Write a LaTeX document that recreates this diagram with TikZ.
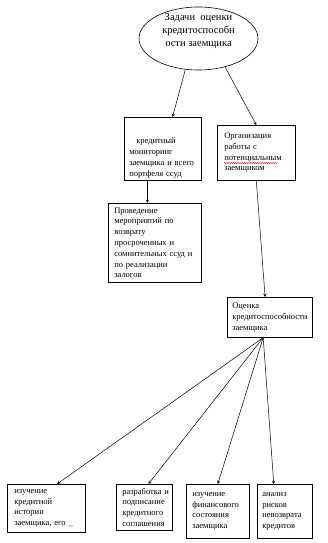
\documentclass[tikz,border=0pt]{standalone}
\usepackage{fontspec}
\setmainfont{Liberation Serif}
\usetikzlibrary{arrows,positioning,shapes.geometric,calc,decorations.pathmorphing}
\tikzset{
  block/.style={draw, rectangle, anchor=north west, align=left, line width=0.6pt,
    inner ysep=2pt, font=\fontsize{8.5}{10.8}\selectfont},
  goal/.style={draw, ellipse, line width=0.6pt, minimum width=119pt, minimum height=63pt},
  link/.style={-stealth, line width=0.5pt},
}

\begin{document}
\begin{tikzpicture}[x=1pt,y=-1pt]
    \useasboundingbox (0,0) rectangle (328,543);

    % Top ellipse
    \node[goal] (goal) at (198.5,38.5) {};
    \node[align=center, font=\fontsize{10.5}{13}\selectfont] (goaltext) at (198.5,31.5)
      {Задачи\ \ оценки\\кредитоспособн\\ости заемщика};

    % Second row
    \node[block, inner xsep=5pt, text width=67pt, minimum height=63pt, text depth=16pt] (monitor) at (124,117)
      {\hspace*{7pt}кредитный\\мониторинг\\заемщика и всего\\портфеля ссуд};
    \node[block, inner xsep=7pt, text width=64pt, minimum height=55pt] (contact) at (217,125)
      {Организация\\работы с\\потенциальным\\заемщиком};
    \draw[red, line width=0.4pt, decorate, decoration={snake, amplitude=0.6pt, segment length=2.2pt}]
      ($(contact.north west)+(7,38)$) -- ++(54,0);

    % Third row
    \node[block, inner xsep=6pt, text width=81pt, minimum height=79pt] (recovery) at (108,203)
      {Проведение\\мероприятий по\\возврату\\просроченных и\\сомнительных ссуд и\\по реализации\\залогов};
    \node[block, inner xsep=5pt, text width=75pt, minimum height=40pt] (score) at (227,297)
      {Оценка\\кредитоспособности\\заемщика};

    % Bottom row
    \node[block, inner xsep=7pt, text width=64pt, minimum height=48pt] (history) at (7,484)
      {изучение\\кредитной\\истории\\заемщика, его \_};
    \node[block, inner xsep=6pt, text width=44pt, minimum height=46pt] (contract) at (116,484)
      {разработка~и\\подписание\\кредитного\\соглашения};
    \node[block, inner xsep=6pt, text width=51pt, minimum height=54pt] (finance) at (186,484)
      {изучение\\финансового\\состояния\\заемщика};
    \node[block, inner xsep=5pt, text width=45pt, minimum height=54pt] (risk) at (257,484)
      {анализ\\рисков\\невозврата\\кредитов};

    % Connectors
    \draw[link] (goal.247) -- (monitor.73);
    \draw[link] (goal.313) -- (contact.north);
    \draw[link] (monitor.244) -- (monitor.244 |- recovery.north);
    \draw[link] (contact.south) -- (score.103);
    \coordinate (hub) at (score.252);
    \draw[link] (hub) -- (history.66);
    \draw[link] (hub) -- (contract.80);
    \draw[link] (hub) -- (finance.north);
    \draw[link] (hub) -- (risk.112);
\end{tikzpicture}
\end{document}
